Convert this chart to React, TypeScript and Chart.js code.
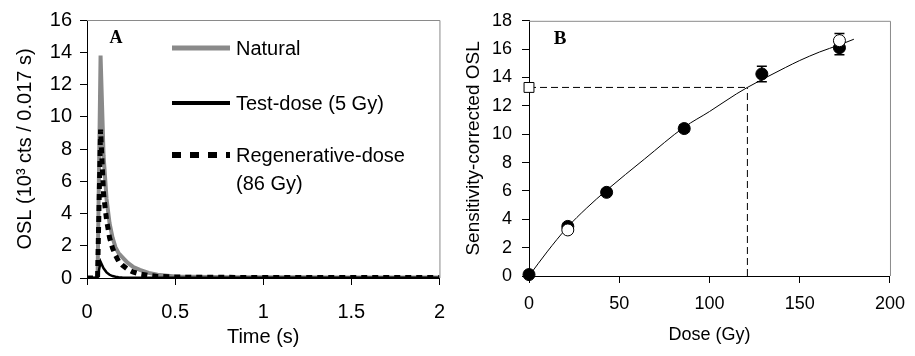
import React, { useEffect, useRef } from 'react';
import { Chart, registerables } from 'chart.js';
Chart.register(...registerables);

// ---------- Panel A: OSL decay curves ----------
const timeS = [0, 0.017, 0.034, 0.051, 0.06, 0.077, 0.094, 0.111, 0.128, 0.145, 0.162, 0.179, 0.2, 0.23, 0.26, 0.3, 0.35, 0.4, 0.5, 0.6, 0.8, 1.0, 1.2, 1.4, 1.6, 1.8, 2.0];
const naturalOSL = [0, 0, 0, 0, 0.05, 13.8, 7.6, 4.9, 3.4, 2.5, 1.9, 1.55, 1.3, 0.95, 0.7, 0.5, 0.32, 0.2, 0.1, 0.07, 0.05, 0.04, 0.04, 0.03, 0.03, 0.03, 0.03];
const testDoseOSL = [0, 0, 0, 0, 0.02, 1.0, 0.6, 0.35, 0.2, 0.12, 0.08, 0.05, 0.03, 0.02, 0.02, 0.02, 0.02, 0.02, 0.02, 0.02, 0.02, 0.02, 0.02, 0.02, 0.02, 0.02, 0.02];
const regenOSL = [0, 0, 0, 0, 0.05, 9.2, 5.2, 3.6, 2.5, 1.85, 1.4, 1.05, 0.8, 0.55, 0.38, 0.25, 0.16, 0.1, 0.06, 0.05, 0.04, 0.03, 0.03, 0.03, 0.03, 0.03, 0.03];
const legendLabels = ['Natural', 'Test-dose (5 Gy)', 'Regenerative-dose', '(86 Gy)'];
const xTicksA = [0, 0.5, 1, 1.5, 2];
const yTicksA = [0, 2, 4, 6, 8, 10, 12, 14, 16];

// ---------- Panel B: dose-response ----------
const filledDose = [0, 21.5, 43, 86, 129, 172];
const filledOSL = [0.1, 3.5, 5.9, 10.4, 14.25, 16.1];
const filledErr = [0.1, 0.15, 0.2, 0.25, 0.55, 0.5];
const openDose = [21.5, 172];
const openOSL = [3.25, 16.6];
const openErr = [0.1, 0.5];
const naturalDose = [0];
const naturalLx = [13.3];
const equivalentDose = 121;
const fitDose = [0, 10, 21, 32, 43, 64, 86, 100, 115, 121, 129, 142, 150, 161, 172, 180];
const fitOSL = [0, 1.7, 3.4, 4.8, 6.05, 8.25, 10.5, 11.6, 12.85, 13.3, 13.85, 14.7, 15.2, 15.8, 16.3, 16.7];

const GRAY = '#8a8a8a';
const SANS = '"Liberation Sans", Arial, sans-serif';
const SERIF = '"Liberation Serif", "Times New Roman", serif';

const framePlugin = {
  id: 'frame',
  beforeDatasetsDraw(chart: any) {
    const { ctx, chartArea: a } = chart;
    ctx.save();
    ctx.strokeStyle = GRAY;
    ctx.lineWidth = 1;
    ctx.beginPath();
    ctx.moveTo(a.left, a.top + 0.5);
    ctx.lineTo(a.right + 0.5, a.top + 0.5);
    ctx.lineTo(a.right + 0.5, a.bottom);
    ctx.stroke();
    ctx.restore();
  },
};

function panelLabel(text: string, x: number, y: number, size: number) {
  return {
    id: 'panelLabel' + text,
    afterDraw(chart: any) {
      const ctx = chart.ctx;
      ctx.save();
      ctx.font = `bold ${size}px ${SERIF}`;
      ctx.fillStyle = '#000';
      ctx.textAlign = 'center';
      ctx.textBaseline = 'middle';
      ctx.fillText(text, x, y);
      ctx.restore();
    },
  };
}

const legendPluginA = {
  id: 'legendA',
  afterDraw(chart: any) {
    const ctx = chart.ctx;
    const x0 = 172, x1 = 230, tx = 236;
    ctx.save();
    ctx.lineCap = 'butt';
    // Natural
    ctx.strokeStyle = GRAY; ctx.lineWidth = 5; ctx.setLineDash([]);
    ctx.beginPath(); ctx.moveTo(x0, 48); ctx.lineTo(x1, 48); ctx.stroke();
    // Test dose
    ctx.strokeStyle = '#000'; ctx.lineWidth = 4;
    ctx.beginPath(); ctx.moveTo(x0, 103); ctx.lineTo(x1, 103); ctx.stroke();
    // Regenerative
    ctx.lineWidth = 6; ctx.setLineDash([9, 9]);
    ctx.beginPath(); ctx.moveTo(x0, 155); ctx.lineTo(x1, 155); ctx.stroke();
    ctx.setLineDash([]);
    ctx.font = `20px ${SANS}`;
    ctx.fillStyle = '#000';
    ctx.textAlign = 'left';
    ctx.textBaseline = 'middle';
    ctx.fillText(legendLabels[0], tx, 49);
    ctx.fillText(legendLabels[1], tx, 104);
    ctx.fillText(legendLabels[2], tx, 156);
    ctx.fillText(legendLabels[3], tx, 184);
    ctx.restore();
  },
};

const errorBarPlugin = {
  id: 'errorBars',
  beforeDatasetsDraw(chart: any) {
    const { ctx, scales } = chart;
    const xs = scales.x, ys = scales.y;
    const draw = (xv: number[], yv: number[], ev: number[]) => {
      for (let i = 0; i < xv.length; i++) {
        const px = xs.getPixelForValue(xv[i]);
        const pt = ys.getPixelForValue(yv[i] + ev[i]);
        const pb = ys.getPixelForValue(yv[i] - ev[i]);
        ctx.beginPath();
        ctx.moveTo(px, pt); ctx.lineTo(px, pb);
        ctx.moveTo(px - 5, pt); ctx.lineTo(px + 5, pt);
        ctx.moveTo(px - 5, pb); ctx.lineTo(px + 5, pb);
        ctx.stroke();
      }
    };
    ctx.save();
    ctx.strokeStyle = '#000';
    ctx.lineWidth = 1.5;
    draw(filledDose, filledOSL, filledErr);
    draw(openDose, openOSL, openErr);
    ctx.restore();
  },
};

function axisCommon(size: number) {
  return {
    border: { color: '#000', width: 1 },
    grid: { drawOnChartArea: false, drawTicks: true, tickLength: 7, color: '#000' },
    ticks: { color: '#000', font: { family: SANS, size } },
  };
}

export default function App() {
  const refA = useRef<HTMLCanvasElement>(null);
  const refB = useRef<HTMLCanvasElement>(null);

  useEffect(() => {
    const pts = (xs: number[], ys: number[]) => xs.map((x, i) => ({ x, y: ys[i] }));

    const cA = new Chart(refA.current as HTMLCanvasElement, {
      type: 'scatter',
      data: {
        datasets: [
          { label: legendLabels[0], data: pts(timeS, naturalOSL), showLine: true, borderColor: GRAY, borderWidth: 4, pointRadius: 0, order: 2, tension: 0 },
          { label: legendLabels[1], data: pts(timeS, testDoseOSL), showLine: true, borderColor: '#000', borderWidth: 2.5, pointRadius: 0, order: 1, tension: 0 },
          { label: legendLabels[2], data: pts(timeS, regenOSL), showLine: true, borderColor: '#000', borderWidth: 5, borderDash: [6, 5], pointRadius: 0, order: 0, tension: 0 },
        ],
      } as any,
      options: {
        responsive: false,
        animation: false,
        events: [],
        layout: { padding: { top: 15, right: 20, left: 0, bottom: 0 } },
        plugins: { legend: { display: false }, tooltip: { enabled: false } },
        scales: {
          x: {
            type: 'linear', min: 0, max: 2,
            afterFit: (s: any) => { s.height = 78; },
            afterBuildTicks: (s: any) => { s.ticks = xTicksA.map((v) => ({ value: v })); },
            ...axisCommon(20),
            ticks: { color: '#000', font: { family: SANS, size: 20 }, padding: 15, maxRotation: 0, callback: (v: any) => String(v) },
            title: { display: true, text: 'Time (s)', color: '#000', font: { family: SANS, size: 20 }, padding: { top: 0, bottom: 7 } },
          },
          y: {
            type: 'linear', min: 0, max: 16,
            afterFit: (s: any) => { s.width = 87; },
            afterBuildTicks: (s: any) => { s.ticks = yTicksA.map((v) => ({ value: v })); },
            ...axisCommon(20),
            ticks: { color: '#000', font: { family: SANS, size: 20 }, padding: 8, callback: (v: any) => String(v) },
            title: { display: true, text: 'OSL (10³ cts / 0.017 s)', color: '#000', font: { family: SANS, size: 20 }, padding: { top: 13, bottom: 0 } },
          },
        },
      } as any,
      plugins: [framePlugin, legendPluginA, panelLabel('A', 116, 38, 18)],
    });

    const cB = new Chart(refB.current as HTMLCanvasElement, {
      type: 'scatter',
      data: {
        datasets: [
          { label: 'Natural', data: pts(naturalDose, naturalLx), pointStyle: 'rect', pointRadius: 7, backgroundColor: '#fff', borderColor: '#000', borderWidth: 1, order: 0, clip: false },
          { label: 'Recycled', data: pts(openDose, openOSL), pointRadius: 6, backgroundColor: '#fff', borderColor: '#000', borderWidth: 1, order: 1, clip: false },
          { label: 'Regenerated', data: pts(filledDose, filledOSL), pointRadius: 6, backgroundColor: '#000', borderColor: '#000', borderWidth: 1, order: 2, clip: false },
          { label: 'De-h', data: [{ x: 0, y: naturalLx[0] }, { x: equivalentDose, y: naturalLx[0] }], showLine: true, borderColor: '#000', borderWidth: 1, borderDash: [7, 4], pointRadius: 0, order: 4 },
          { label: 'De-v', data: [{ x: equivalentDose, y: 0 }, { x: equivalentDose, y: naturalLx[0] }], showLine: true, borderColor: '#000', borderWidth: 1, borderDash: [7, 4], pointRadius: 0, order: 4 },
          { label: 'Fit', data: pts(fitDose, fitOSL), showLine: true, borderColor: '#000', borderWidth: 1, pointRadius: 0, cubicInterpolationMode: 'monotone', order: 5 },
        ],
      } as any,
      options: {
        responsive: false,
        animation: false,
        events: [],
        layout: { padding: { top: 15, right: 19, left: 0, bottom: 0 } },
        plugins: { legend: { display: false }, tooltip: { enabled: false } },
        scales: {
          x: {
            type: 'linear', min: 0, max: 200,
            afterFit: (s: any) => { s.height = 80; },
            ...axisCommon(18),
            ticks: { color: '#000', font: { family: SANS, size: 18 }, padding: 10, stepSize: 50, maxRotation: 0 },
            title: { display: true, text: 'Dose (Gy)', color: '#000', font: { family: SANS, size: 18 }, padding: { top: 0, bottom: 10 } },
          },
          y: {
            type: 'linear', min: 0, max: 18,
            afterFit: (s: any) => { s.width = 69; },
            ...axisCommon(18),
            ticks: { color: '#000', font: { family: SANS, size: 18 }, padding: 10, stepSize: 2 },
            title: { display: true, text: 'Sensitivity-corrected OSL', color: '#000', font: { family: SANS, size: 19 }, padding: { top: 2, bottom: 0 } },
          },
        },
      } as any,
      plugins: [framePlugin, errorBarPlugin, panelLabel('B', 100, 39, 19)],
    });

    return () => { cA.destroy(); cB.destroy(); };
  }, []);

  return (
    <div style={{ position: 'absolute', left: 0, top: 0, width: 915, height: 356, background: '#fff' }}>
      <canvas ref={refA} width={460} height={356} style={{ position: 'absolute', left: 0, top: 0, width: 460, height: 356 }} />
      <canvas ref={refB} width={455} height={356} style={{ position: 'absolute', left: 460, top: 0, width: 455, height: 356 }} />
    </div>
  );
}
